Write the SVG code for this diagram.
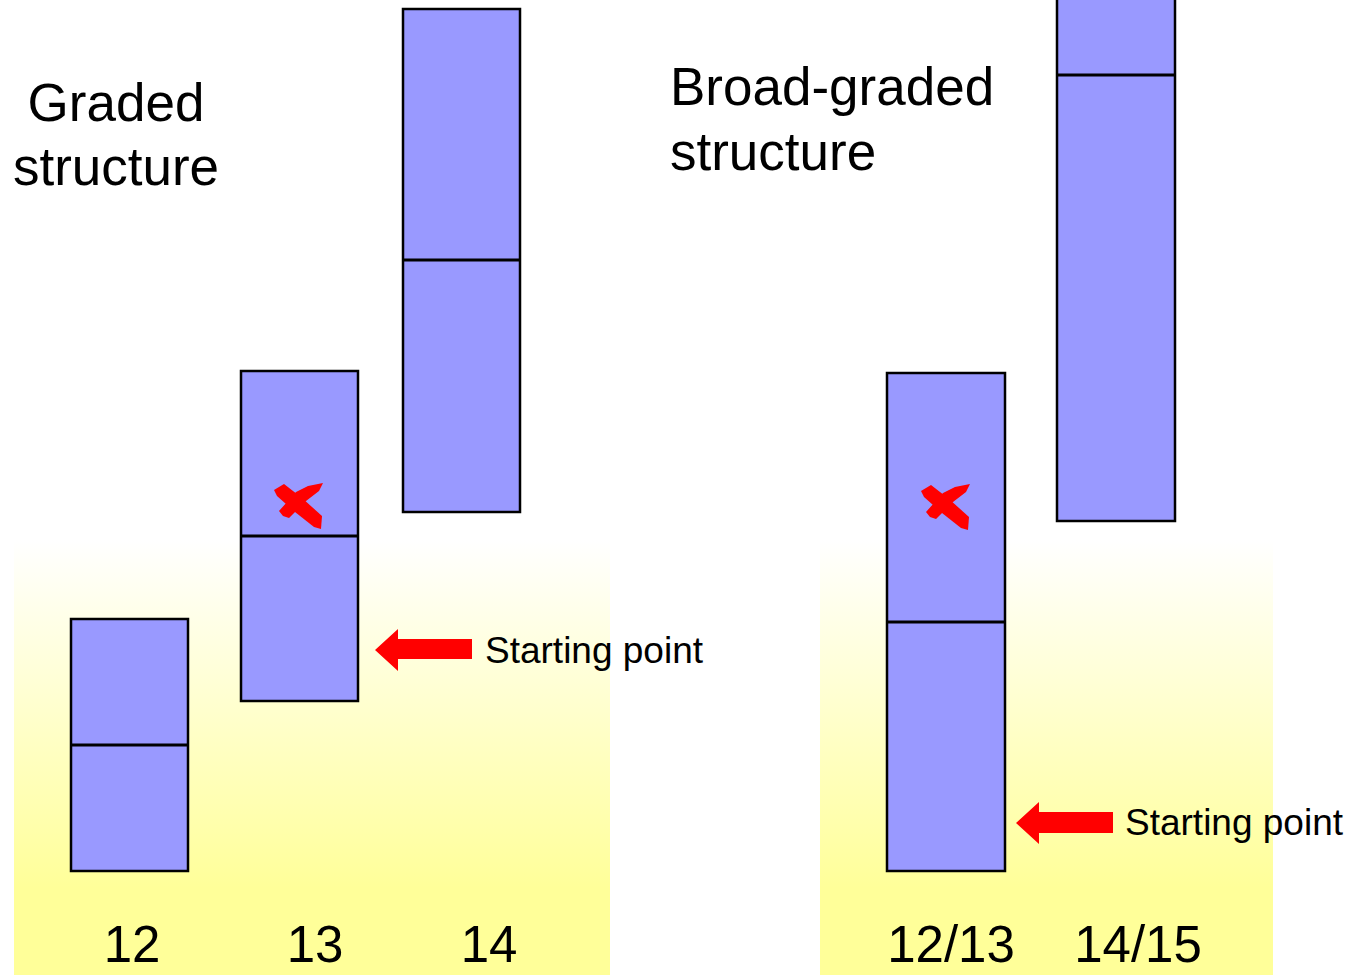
<svg xmlns="http://www.w3.org/2000/svg" width="1350" height="975" viewBox="0 0 1350 975">
<defs>
<linearGradient id="yel" x1="0" y1="0" x2="0" y2="1">
<stop offset="0" stop-color="#FFFFFF"/>
<stop offset="0.8" stop-color="#FFFF99"/>
<stop offset="1" stop-color="#FFFF99"/>
</linearGradient>
<style>
.box{fill:#9999FF;stroke:#000;stroke-width:2.5}
.div{stroke:#000;stroke-width:3}
.t{font-family:"Liberation Sans",Arial,sans-serif;fill:#000}
.title{font-size:53px}
.num{font-size:51px}
.lab{font-size:37px}
.red{fill:#FF0000}
</style>
</defs>
<rect width="1350" height="975" fill="#FFFFFF"/>
<rect x="14" y="540" width="596" height="435" fill="url(#yel)"/>
<rect x="820" y="540" width="453" height="435" fill="url(#yel)"/>

<text class="t title" x="116" y="121" text-anchor="middle">Graded</text>
<text class="t title" x="116" y="185" text-anchor="middle">structure</text>
<text class="t title" x="670" y="105">Broad-graded</text>
<text class="t title" x="670" y="170">structure</text>

<g id="node-12">
<rect class="box" x="71" y="619" width="117" height="252"/>
<line class="div" x1="71" y1="745" x2="188" y2="745"/>
<text class="t num" x="132" y="962" text-anchor="middle">12</text>
</g>
<g id="node-13">
<rect class="box" x="241" y="371" width="117" height="330"/>
<line class="div" x1="241" y1="536" x2="358" y2="536"/>
<text class="t num" x="315" y="962" text-anchor="middle">13</text>
<g class="red">
<polygon points="274,490 284,484 302,498 322,516 321,529 314,527 295,512 277,496"/>
<polygon points="279,511 296,492 308,486 323,483 319,491 306,501 289,518 283,516"/>
</g>
</g>
<g id="node-14">
<rect class="box" x="403" y="9" width="117" height="503"/>
<line class="div" x1="403" y1="260" x2="520" y2="260"/>
<text class="t num" x="489" y="962" text-anchor="middle">14</text>
</g>
<g id="node-12-13">
<rect class="box" x="887" y="373" width="118" height="498"/>
<line class="div" x1="887" y1="622" x2="1005" y2="622"/>
<text class="t num" x="951" y="962" text-anchor="middle">12/13</text>
<g class="red" transform="translate(647,1)">
<polygon points="274,490 284,484 302,498 322,516 321,529 314,527 295,512 277,496"/>
<polygon points="279,511 296,492 308,486 323,483 319,491 306,501 289,518 283,516"/>
</g>
</g>
<g id="node-14-15">
<rect class="box" x="1057" y="-10" width="118" height="531"/>
<line class="div" x1="1057" y1="75" x2="1175" y2="75"/>
<text class="t num" x="1138" y="962" text-anchor="middle">14/15</text>
</g>

<g id="connectors">
<polygon class="red" points="375,650 398,629 398,639 472,639 472,659 398,659 398,671"/>
<text class="t lab" x="485" y="663">Starting point</text>
<polygon class="red" points="1016,823 1039,802 1039,812 1113,812 1113,833 1039,833 1039,844"/>
<text class="t lab" x="1125" y="835">Starting point</text>
</g>
</svg>
